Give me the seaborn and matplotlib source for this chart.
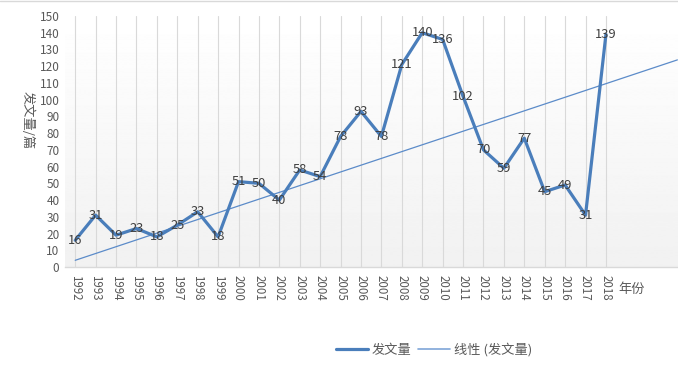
import numpy as np
import pandas as pd
import matplotlib
matplotlib.use("Agg")
import matplotlib.pyplot as plt
import seaborn as sns
from matplotlib.lines import Line2D

years = [1992, 1993, 1994, 1995, 1996, 1997, 1998, 1999, 2000, 2001, 2002, 2003, 2004,
         2005, 2006, 2007, 2008, 2009, 2010, 2011, 2012, 2013, 2014, 2015, 2016, 2017, 2018]
counts = [16, 31, 19, 23, 18, 25, 33, 18, 51, 50, 40, 58, 54,
          78, 93, 78, 121, 140, 136, 102, 70, 59, 77, 45, 49, 31, 139]
# linear trend line (value at first year, rise per year)
trend_intercept = 4.0
trend_slope = 4.06
trend_forward = 3.5  # forward forecast periods beyond last year
y_ticks = list(range(0, 151, 10))
series_name = "发文量"
trend_name = "线性 (发文量)"
x_title = "年份"
y_title = "发文量/篇"

sns.set_theme(style="white")
plt.rcParams['font.family'] = ['Noto Sans CJK SC', 'DejaVu Sans']

W, H = 678, 369
fig = plt.figure(figsize=(W / 100, H / 100), dpi=100)
L, R, T, B = 65, 678, 16, 267
ax = fig.add_axes([L / W, 1 - B / H, (R - L) / W, (B - T) / H])

idx = np.arange(len(years))
df = pd.DataFrame({"idx": idx, "count": counts})

# gradient background
grad = np.linspace(1.0, 0.945, 256).reshape(-1, 1)
ax.imshow(grad, cmap="gray", vmin=0, vmax=1, aspect="auto",
          extent=[0, 1, 0, 1], transform=ax.transAxes, zorder=0)

for i in idx:
    ax.axvline(i, color="#d9d9d9", lw=0.8, zorder=1)

color = "#4a7ebb"
trend_color = "#5b8bc9"
sns.lineplot(data=df, x="idx", y="count", ax=ax, color=color, lw=2.3, zorder=3,
             legend=False)

tx = np.array([0, len(years) - 1 + trend_forward])
tdf = pd.DataFrame({"x": tx, "y": trend_slope * tx + trend_intercept})
sns.lineplot(data=tdf, x="x", y="y", ax=ax, color=trend_color, lw=0.9, zorder=2, legend=False)

for i, v in zip(idx, counts):
    ax.text(i, v, str(v), ha="center", va="center", fontsize=9.3, color="#404040", zorder=4)

ax.set_xlim(-0.5, 29.53)
ax.set_ylim(0, 150)
ax.set_yticks(y_ticks)
ax.set_yticklabels([str(t) for t in y_ticks], fontsize=8.5, color="#595959")
ax.set_xticks(idx)
ax.set_xticklabels([str(y) for y in years], rotation=270, fontsize=8.3, color="#595959")
ax.tick_params(axis="both", length=0, pad=4)
ax.tick_params(axis="x", pad=6)
ax.set_xlabel("")
ax.set_ylabel("")
for s in ["top", "right", "left"]:
    ax.spines[s].set_visible(False)
ax.spines["bottom"].set_color("#d9d9d9")
ax.spines["bottom"].set_linewidth(1.0)
ax.grid(False)

fig.text(632 / W, 1 - 290 / H, x_title, fontsize=9.5, color="#595959", ha="center", va="center")
fig.text(27 / W, 1 - 120 / H, y_title, fontsize=9.5, color="#595959", ha="center", va="center",
         rotation=270)

handles = [Line2D([], [], color=color, lw=2.3), Line2D([], [], color="#7fa6d8", lw=1.2)]
fig.legend(handles, [series_name, trend_name], loc="center", bbox_to_anchor=(434 / W, 1 - 350 / H),
           ncol=2, frameon=False, fontsize=9.5, handlelength=2.4, columnspacing=0.5,
           labelcolor="#595959", handletextpad=0.3)

fig.add_artist(Line2D([0, 1], [0.998, 0.998], transform=fig.transFigure, color="#d9d9d9", lw=1))

fig.savefig("out.png", dpi=100)
